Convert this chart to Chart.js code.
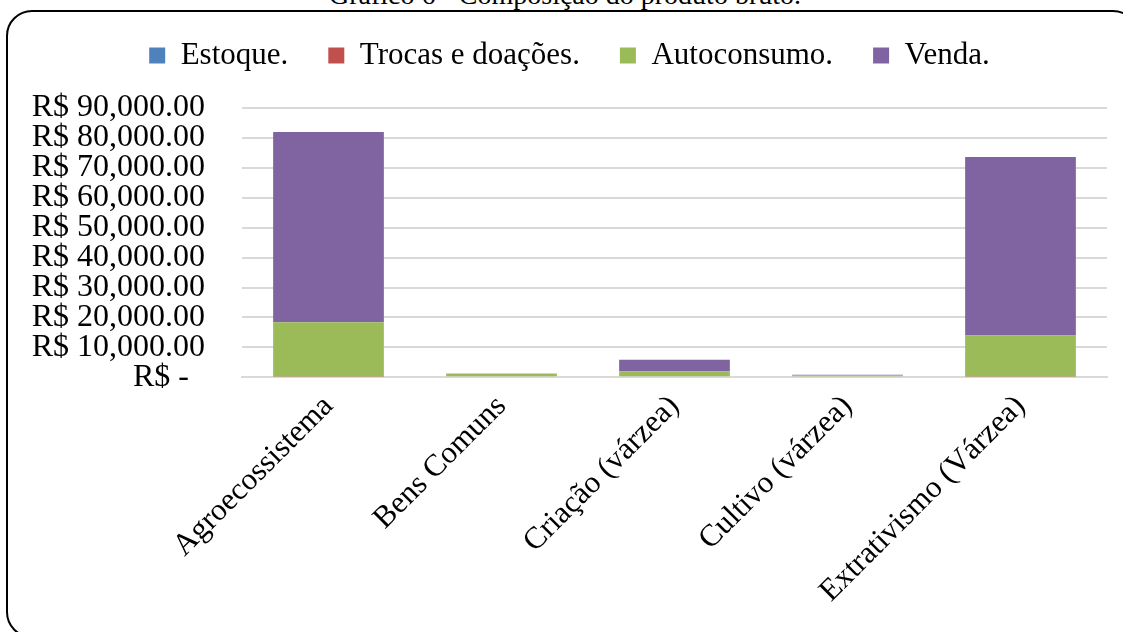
<!DOCTYPE html>
<html>
<head>
<meta charset="utf-8">
<script src="https://cdn.jsdelivr.net/npm/chart.js@4/dist/chart.umd.min.js"></script>
<style>
    html, body { margin: 0; padding: 0; background: #fff; }
    body { width: 1123px; height: 632px; overflow: hidden; position: relative; }
    #title {
        position: absolute; left: 0; width: 1130px; top: -21px;
        text-align: center; font: 28px "Liberation Serif", "Times New Roman", serif;
        line-height: 32px; color: #000;
    }
    #frame {
        position: absolute; left: 6px; top: 10px; width: 1133px; height: 628px;
        border: 2px solid #000; border-radius: 26px; box-sizing: border-box;
    }
    #wrap { position: absolute; left: 0; top: 0; width: 1123px; height: 632px; }
</style>
</head>
<body>
<div id="title">Gráfico 6 - Composição do produto bruto.</div>
<div id="frame"></div>
<div id="wrap"><canvas id="produtoChart"></canvas></div>
<script>
const categories = ['Agroecossistema', 'Bens Comuns', 'Criação (várzea)', 'Cultivo (várzea)', 'Extrativismo (Várzea)'];
const estoque = [0, 0, 0, 0, 0];
const trocas = [300, 0, 0, 0, 300];
const autoconsumo = [18100, 1300, 2000, 600, 13700];
const venda = [63600, 0, 3900, 300, 59600];

document.addEventListener('DOMContentLoaded', function () {
    const serif = '"Liberation Serif", "Times New Roman", serif';

    // extra room under the legend, like the Excel original
    const legendGap = {
        id: 'legendGap',
        beforeInit(chart) {
            const fit = chart.legend.fit;
            chart.legend.fit = function () {
                fit.bind(chart.legend)();
                this.height += 27;
            };
        }
    };

    const data = {
        labels: categories,
        datasets: [
            { label: 'Estoque.', data: estoque, backgroundColor: '#4F81BD' },
            { label: 'Trocas e doações.', data: trocas, backgroundColor: '#C0504D' },
            { label: 'Autoconsumo.', data: autoconsumo, backgroundColor: '#9BBB59' },
            { label: 'Venda.', data: venda, backgroundColor: '#8064A2' }
        ]
    };

    const config = {
        type: 'bar',
        data: data,
        options: {
            responsive: false,
            animation: false,
            layout: { padding: { top: 0, right: 16, left: 32, bottom: 19 } },
            datasets: {
                bar: { barPercentage: 0.64, categoryPercentage: 1 }
            },
            plugins: {
                legend: {
                    position: 'top',
                    labels: {
                        boxWidth: 16,
                        boxHeight: 16,
                        padding: 40,
                        color: '#000',
                        font: { family: serif, size: 31 }
                    }
                },
                tooltip: { enabled: false }
            },
            scales: {
                x: {
                    stacked: true,
                    grid: { display: false },
                    border: { color: '#D9D9D9', width: 2 },
                    afterFit: (scale) => { scale.paddingLeft = 0; scale.paddingRight = 0; },
                    ticks: {
                        color: '#000',
                        maxRotation: 45,
                        minRotation: 45,
                        font: { family: serif, size: 31 }
                    }
                },
                y: {
                    stacked: true,
                    min: 0,
                    max: 90000,
                    border: { display: false },
                    grid: { color: '#D9D9D9', lineWidth: 2, drawTicks: false },
                    afterFit: (scale) => { scale.width = 210; },
                    ticks: {
                        stepSize: 10000,
                        autoSkip: false,
                        padding: 37,
                        color: '#000',
                        font: { family: serif, size: 32 },
                        callback: (value) => value === 0 ? 'R$ -  ' :
                            'R$ ' + value.toLocaleString('en-US', { minimumFractionDigits: 2 })
                    }
                }
            }
        },
        plugins: [legendGap]
    };

    const canvas = document.getElementById('produtoChart');
    canvas.width = 1123;
    canvas.height = 632;
    new Chart(canvas, config);
});
</script>
</body>
</html>
